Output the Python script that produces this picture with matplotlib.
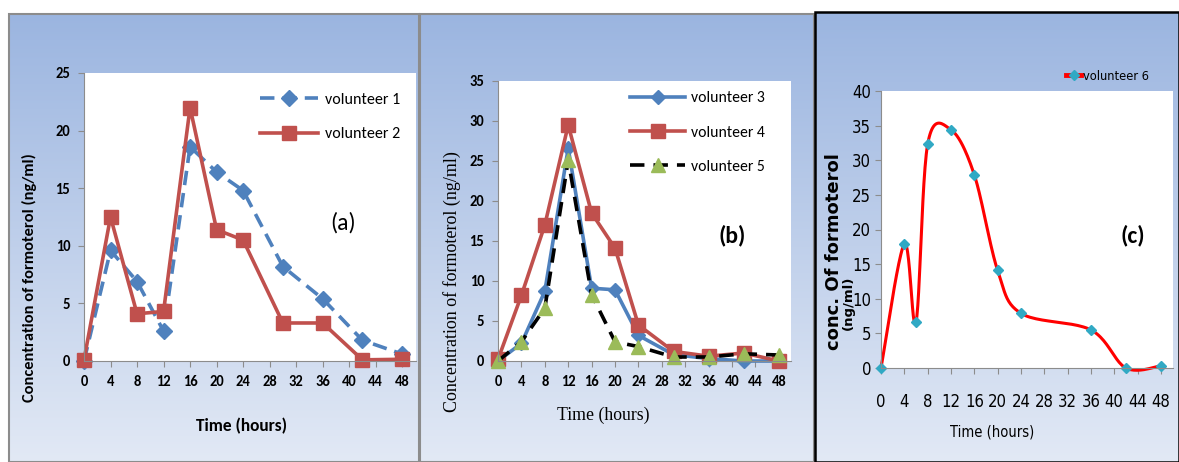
import numpy as np
import matplotlib
matplotlib.use('Agg')
import matplotlib.pyplot as plt
from matplotlib import font_manager
from matplotlib.patches import Rectangle

# data
t_ab = [0, 4, 8, 12, 16, 20, 24, 30, 36, 42, 48]
vol1 = [0, 9.6, 6.9, 2.6, 18.6, 16.4, 14.8, 8.2, 5.4, 1.8, 0.6]
vol2 = [0.1, 12.5, 4.1, 4.3, 22.0, 11.4, 10.5, 3.3, 3.3, 0.1, 0.15]
vol3 = [0, 2.2, 8.7, 26.6, 9.1, 8.9, 3.2, 0.8, 0.3, 0, 0]
vol4 = [0.2, 8.2, 17.0, 29.5, 18.5, 14.1, 4.5, 1.2, 0.6, 1.0, 0]
vol5 = [0, 2.4, 6.6, 25.1, 8.3, 2.4, 1.8, 0.5, 0.5, 0.9, 0.75]
t_c = [0, 4, 6, 8, 12, 16, 20, 24, 36, 42, 48]
vol6 = [0, 17.9, 6.6, 32.3, 34.4, 27.9, 14.1, 7.9, 5.5, 0, 0.3]
xticks = list(range(0, 49, 4))

W, H = 1179, 462
ttf = font_manager.fontManager.ttflist
bold_fams = {f.name for f in ttf if f.weight in (600, 700, 'bold', 'semibold')}
sans = next((f for f in ['Carlito', 'Lato', 'Open Sans', 'Noto Sans', 'Liberation Sans'] if f in bold_fams),
            'DejaVu Sans')
serif = 'Liberation Serif'
cond = sorted([f.fname for f in ttf if ('condensed' in f.fname.lower() or 'narrow' in f.fname.lower())
               and not any(k in f.fname.lower() for k in ('bold', 'oblique', 'italic'))])
have_cond = bool(cond)


def narrow(size):
    if have_cond:
        return font_manager.FontProperties(fname=cond[0], size=size)
    return font_manager.FontProperties(family='DejaVu Sans', size=size * 0.85)


fig = plt.figure(figsize=(W / 100, H / 100), dpi=100)


def px(l, t, r, b):
    return [l / W, 1 - b / H, (r - l) / W, (b - t) / H]


def ftext(x, y, s, **kw):
    return fig.text(x / W, 1 - y / H, s, **kw)


def panel(l, t, r, ec, lw):
    bg = fig.add_axes(px(l, t, r, H), zorder=0)
    grad = np.linspace(0, 1, 256)[:, None]
    cmap = matplotlib.colors.LinearSegmentedColormap.from_list('g', ['#9bb5e0', '#e2e9f5'])
    bg.imshow(grad, aspect='auto', cmap=cmap, extent=[0, 1, 0, 1])
    bg.axis('off')
    fig.patches.append(Rectangle((l / W, 0), (r - l) / W, 1 - t / H, transform=fig.transFigure,
                                 fill=False, ec=ec, lw=lw, zorder=5))


def style(ax, ymax, ystep, tprop, xpad, ypad):
    ax.set_xlim(0, 50.08)
    ax.set_ylim(0, ymax)
    ax.set_xticks(xticks)
    ax.set_yticks(range(0, ymax + 1, ystep))
    for s in ['top', 'right']:
        ax.spines[s].set_visible(False)
    for s in ['left', 'bottom']:
        ax.spines[s].set_color('#8c8c8c')
    ax.tick_params(colors='#8c8c8c', length=4, labelcolor='black')
    ax.tick_params(axis='x', pad=xpad)
    ax.tick_params(axis='y', pad=ypad)
    for lab in ax.get_xticklabels() + ax.get_yticklabels():
        lab.set_fontproperties(tprop)


panel(9, 14, 419, '#8c8c8c', 1.5)
panel(420, 14, 814, '#8c8c8c', 1.5)
panel(815, 12, 1179, 'black', 1.8)

tick_ab = font_manager.FontProperties(family=sans, size=10.5, weight='bold')

# (a)
ax1 = fig.add_axes(px(84, 73, 416, 361), zorder=2)
ax1.plot(t_ab, vol1, color='#4f81bd', lw=2.6, ls=(0, (4, 2.2)), marker='D', ms=8,
         label='volunteer 1', clip_on=False)
ax1.plot(t_ab, vol2, color='#c0504d', lw=2.6, marker='s', ms=10, label='volunteer 2', clip_on=False)
style(ax1, 25, 5, tick_ab, 6, 6)
ax1.legend(loc='upper left', bbox_to_anchor=(246 / W, 1 - 78 / H), bbox_transform=fig.transFigure,
           frameon=False, prop={'family': sans, 'size': 11.5}, handlelength=3.6, handletextpad=0.45,
           labelspacing=1.3)
ftext(343, 223, '(a)', ha='center', va='center', fontsize=17, family=sans)
ftext(29, 278, 'Concentration of formoterol (ng/ml)', rotation=90, ha='center', va='center',
      family=sans, fontsize=11.8, fontweight='bold')
ftext(242, 426, 'Time (hours)', ha='center', va='center', family=sans, fontsize=12.5,
      fontweight='bold')

# (b)
ax2 = fig.add_axes(px(498, 81, 791, 361), zorder=2)
ax2.plot(t_ab, vol3, color='#4f81bd', lw=2.6, marker='D', ms=7, label='volunteer 3', clip_on=False)
ax2.plot(t_ab, vol4, color='#c0504d', lw=2.6, marker='s', ms=10, label='volunteer 4', clip_on=False)
ax2.plot(t_ab, vol5, color='black', lw=2.6, ls=(0, (4, 2.5)), marker='^', ms=10, mfc='#9bbb59',
         mec='#9bbb59', label='volunteer 5', clip_on=False)
style(ax2, 35, 5, tick_ab, 6, 6)
ax2.legend(loc='upper left', bbox_to_anchor=(616 / W, 1 - 77 / H), bbox_transform=fig.transFigure,
           frameon=False, prop={'family': sans, 'size': 11.3}, handlelength=3.5, handletextpad=0.35,
           labelspacing=1.3)
ftext(732, 235, '(b)', ha='center', va='center', fontsize=17, family=sans, fontweight='bold')
ftext(452, 282, 'Concentration of formoterol (ng/ml)', rotation=90, ha='center', va='center',
      family=serif, fontsize=13)
ftext(603, 415, 'Time (hours)', ha='center', va='center', family=serif, fontsize=12.8)

# (c) smoothed line like the spreadsheet's smoothing
ax3 = fig.add_axes(px(881, 91, 1173, 368), zorder=2)
P = np.column_stack([t_c, vol6]).astype(float)
Pe = np.vstack([P[0], P, P[-1]])
s = np.linspace(0, 1, 25)[:, None]
segs = []
for i in range(1, len(Pe) - 2):
    p0, p1, p2, p3 = Pe[i - 1], Pe[i], Pe[i + 1], Pe[i + 2]
    m1, m2 = (p2 - p0) / 2, (p3 - p1) / 2
    segs.append((2 * s**3 - 3 * s**2 + 1) * p1 + (s**3 - 2 * s**2 + s) * m1
                + (-2 * s**3 + 3 * s**2) * p2 + (s**3 - s**2) * m2)
curve = np.vstack(segs)
ax3.plot(curve[:, 0], curve[:, 1], color='#ff0000', lw=2.2, clip_on=False)
ax3.plot(t_c, vol6, ls='none', marker='D', ms=5, color='#31a9c4', clip_on=False)
style(ax3, 40, 5, narrow(12), 14, 3)
ax3.plot([], [], color='#ff0000', lw=3.5, marker='D', ms=5, mfc='#31a9c4', mec='#31a9c4',
         label='volunteer 6')
ax3.legend(loc='center left', bbox_to_anchor=(1066 / W, 1 - 76 / H), bbox_transform=fig.transFigure,
           frameon=False, prop=narrow(9.2), handlelength=1.2,
           handletextpad=0.1, borderpad=0, borderaxespad=0)
ftext(1133, 235, '(c)', ha='center', va='center', fontsize=17, family=sans, fontweight='bold')
ftext(834, 350, 'conc. Of formoterol', rotation=90, ha='left', va='center', rotation_mode='anchor',
      family='DejaVu Sans', fontsize=13, fontweight='bold')
ftext(848, 330, '(ng/ml)', rotation=90, ha='left', va='center', rotation_mode='anchor',
      family='DejaVu Sans', fontsize=9.5, fontweight='bold')
ftext(992, 432, 'Time (hours)', ha='center', va='center', fontproperties=narrow(10.5))

fig.savefig('out.png', dpi=100)
